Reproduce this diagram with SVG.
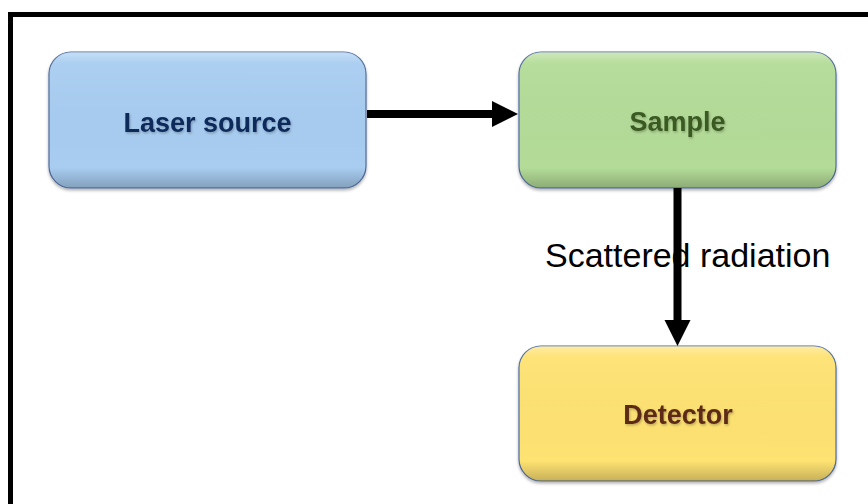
<svg xmlns="http://www.w3.org/2000/svg" width="868" height="504" viewBox="0 0 868 504">
<style>
.box{stroke:#4f6c9a;stroke-width:1.2}
.lbl{font-family:"Liberation Sans",Arial,sans-serif;font-weight:bold;font-size:27px;text-anchor:middle}
.edge{stroke:#000;stroke-width:8;fill:none}
.elbl{font-family:"Liberation Sans",Arial,sans-serif;font-size:34px;fill:#000}
</style>
<defs>
<linearGradient id="shade" x1="0" y1="0" x2="0" y2="1">
<stop offset="0" stop-color="#fff" stop-opacity="0.35"/>
<stop offset="0.08" stop-color="#fff" stop-opacity="0.05"/>
<stop offset="0.85" stop-color="#000" stop-opacity="0"/>
<stop offset="1" stop-color="#000" stop-opacity="0.22"/>
</linearGradient>
<filter id="ts" x="-10%" y="-20%" width="120%" height="150%">
<feDropShadow dx="1" dy="1.5" stdDeviation="1" flood-color="#000" flood-opacity="0.25"/>
</filter>
<filter id="bs" x="-5%" y="-5%" width="110%" height="115%">
<feDropShadow dx="0" dy="2" stdDeviation="1.5" flood-color="#000" flood-opacity="0.3"/>
</filter>
</defs>
<rect x="0" y="0" width="868" height="504" fill="#fff"/>
<rect id="frame" x="10.5" y="14.5" width="880" height="520" fill="none" stroke="#000" stroke-width="5"/>
<g id="laser">
<rect class="box" x="49" y="52" width="317" height="136" rx="22" fill="#a8cdf1" filter="url(#bs)"/>
<rect x="49" y="52" width="317" height="136" rx="22" fill="url(#shade)"/>
<text class="lbl" x="207.5" y="132" fill="#10295a" filter="url(#ts)">Laser source</text>
</g>
<g id="sample">
<rect class="box" x="519" y="52" width="317" height="136" rx="22" fill="#b4dc98" filter="url(#bs)"/>
<rect x="519" y="52" width="317" height="136" rx="22" fill="url(#shade)"/>
<text class="lbl" x="677.5" y="131" fill="#3b5a24" filter="url(#ts)">Sample</text>
</g>
<g id="detector">
<rect class="box" x="519" y="346" width="317" height="135" rx="22" fill="#fee272" filter="url(#bs)"/>
<rect x="519" y="346" width="317" height="135" rx="22" fill="url(#shade)"/>
<text class="lbl" x="678" y="424" fill="#5c2a18" filter="url(#ts)">Detector</text>
</g>
<g id="connectors">
<line class="edge" x1="367" y1="114" x2="494" y2="114"/>
<polygon points="492,101 518,114 492,127" fill="#000"/>
<text class="elbl" x="545" y="267">Scattered radiation</text>
<line class="edge" x1="677.5" y1="188" x2="677.5" y2="322"/>
<polygon points="664.5,320 677.5,346 690.5,320" fill="#000"/>
</g>
</svg>
